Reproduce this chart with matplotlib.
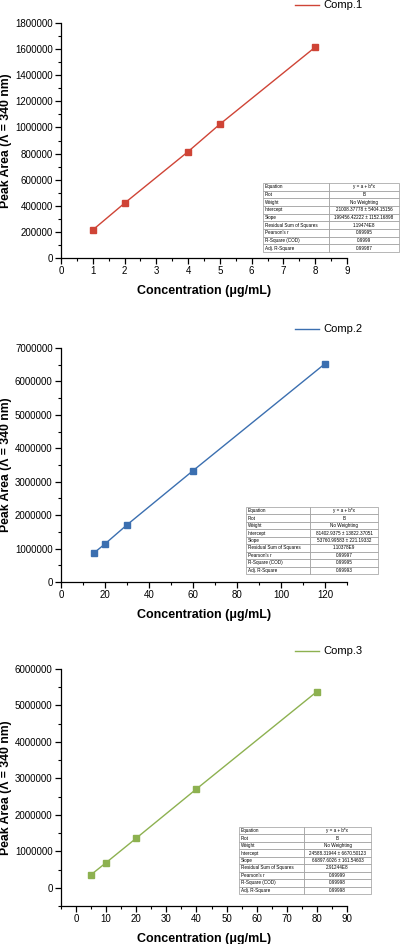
import matplotlib
matplotlib.use("Agg")
import matplotlib.pyplot as plt
from matplotlib.ticker import MultipleLocator

plt.rcParams['font.family'] = ['Liberation Sans', 'DejaVu Sans']

# ---- data ----
names = ["Comp.1", "Comp.2", "Comp.3"]
x1 = [1, 2, 4, 5, 8]
y1 = [215000, 420000, 815000, 1025000, 1615000]
x2 = [15, 20, 30, 60, 120]
y2 = [870000, 1140000, 1710000, 3330000, 6530000]
x3 = [5, 10, 20, 40, 80]
y3 = [360000, 690000, 1360000, 2710000, 5380000]

row_labels = ["Equation", "Plot", "Weight", "Intercept", "Slope",
              "Residual Sum of Squares", "Pearson's r", "R-Square (COD)", "Adj. R-Square"]
vals1 = ["y = a + b*x", "B", "No Weighting", "21008.37778 \u00b1 5404.15156",
         "199456.42222 \u00b1 1152.16898", "1.19474E8", "0.99995", "0.9999", "0.99987"]
vals2 = ["y = a + b*x", "B", "No Weighting", "81402.9375 \u00b1 13822.37051",
         "53760.99583 \u00b1 221.19332", "1.10378E9", "0.99997", "0.99995", "0.99993"]
vals3 = ["y = a + b*x", "B", "No Weighting", "24588.31944 \u00b1 6670.50123",
         "66897.6026 \u00b1 161.54603", "2.91244E8", "0.99999", "0.99998", "0.99998"]

W, H = 400, 944
fig = plt.figure(figsize=(W / 100, H / 100), dpi=100)

def rect(l, t, r, b):
    return [l / W, 1 - b / H, (r - l) / W, (b - t) / H]

panels = [
    dict(x=x1, y=y1, name=names[0], color="#cf4436", vals=vals1,
         ax=(61, 23, 347, 258), xlim=(0, 9), ylim=(0, 1800000),
         xmaj=1, xmin=0.5, ymaj=200000, ymin=100000,
         tab=(263, 183, 399, 252), split=329, leg_y=5),
    dict(x=x2, y=y2, name=names[1], color="#3b6fb0", vals=vals2,
         ax=(61, 348, 347, 582), xlim=(0, 130), ylim=(0, 7000000),
         xmaj=20, xmin=10, ymaj=1000000, ymin=500000,
         tab=(246, 507, 378, 574), split=310, leg_y=329),
    dict(x=x3, y=y3, name=names[2], color="#8db150", vals=vals3,
         ax=(61, 669, 347, 906), xlim=(-5, 90), ylim=(-500000, 6000000),
         xmaj=10, xmin=5, ymaj=1000000, ymin=500000,
         tab=(239, 827, 371, 894), split=304, leg_y=651),
]

for p in panels:
    l, t, r, b = p["ax"]
    ax = fig.add_axes(rect(l, t, r, b))
    ax.plot(p["x"], p["y"], color=p["color"], lw=1.0, marker="s",
            markersize=4.2, markerfacecolor=p["color"], markeredgecolor=p["color"])
    ax.set_xlim(*p["xlim"])
    ax.set_ylim(*p["ylim"])
    ax.xaxis.set_major_locator(MultipleLocator(p["xmaj"]))
    ax.xaxis.set_minor_locator(MultipleLocator(p["xmin"]))
    ax.yaxis.set_major_locator(MultipleLocator(p["ymaj"]))
    ax.yaxis.set_minor_locator(MultipleLocator(p["ymin"]))
    ax.ticklabel_format(style="plain", useOffset=False)
    for s in ["top", "right"]:
        ax.spines[s].set_visible(False)
    for s in ["left", "bottom"]:
        ax.spines[s].set_linewidth(0.9)
    ax.tick_params(which="major", direction="out", length=4, width=0.9, labelsize=7, pad=2)
    ax.tick_params(which="minor", direction="out", length=2, width=0.8)
    if p["xlim"][0] < 0:
        ax.set_xticks([v for v in range(0, 91, 10)])
    if p["ylim"][0] < 0:
        ax.set_yticks([v for v in range(0, 6000001, 1000000)])
    ax.set_ylabel("Peak Area (\u039b = 340 nm)", fontsize=8.8, fontweight="bold")
    ax.yaxis.set_label_coords((12.5 - l) / (r - l), 0.5)
    ax.set_xlabel("Concentration (\u03bcg/mL)", fontsize=9, fontweight="bold", labelpad=6)
    # legend above axes
    ly = p["leg_y"]
    fig.lines.append(plt.Line2D([295 / W, 319 / W], [1 - ly / H, 1 - ly / H],
                                color=p["color"], lw=1.0, transform=fig.transFigure))
    fig.text(323 / W, 1 - ly / H, p["name"], fontsize=8, va="center", ha="left")
    # table
    tl, tt, tr, tb = p["tab"]
    tax = fig.add_axes(rect(tl, tt, tr, tb))
    tax.axis("off")
    cells = [[rl, v] for rl, v in zip(row_labels, p["vals"])]
    frac = (p["split"] - tl) / (tr - tl)
    tbl = tax.table(cellText=cells, colWidths=[frac, 1 - frac], bbox=[0, 0, 1, 1],
                    cellLoc="center")
    tbl.auto_set_font_size(False)
    tbl.set_fontsize(3.3)
    for (rr, c), cell in tbl.get_celld().items():
        cell.set_edgecolor("#9a9a9a")
        cell.set_linewidth(0.5)
        cell.set_facecolor("white")
        cell.PAD = 0.03
        if c == 0:
            cell.get_text().set_ha("left")
            cell._loc = "left"

fig.savefig("out.png", dpi=100)
